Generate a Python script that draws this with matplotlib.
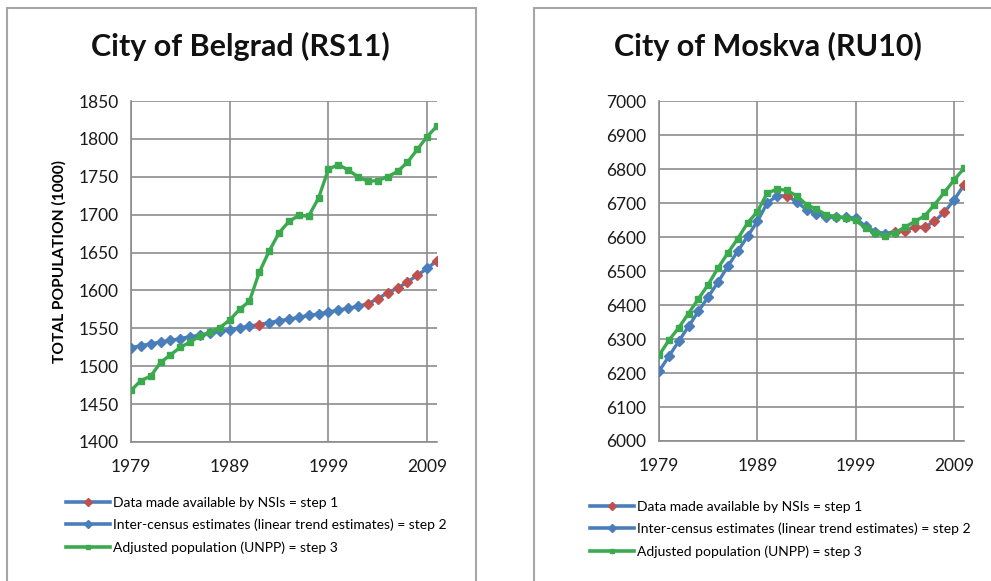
import matplotlib
matplotlib.use('Agg')
import matplotlib.pyplot as plt
from matplotlib.lines import Line2D
from matplotlib.patches import Rectangle
import numpy as np

plt.rcParams['font.family'] = ['Lato', 'DejaVu Sans']

YEARS = list(range(1979, 2011))
X_TICKS = [1979, 1989, 1999, 2009]

# City of Belgrad (RS11), 1000 persons
BELGRAD_STEP2 = [1524.5, 1527, 1529.5, 1532, 1534, 1536.5, 1539, 1541, 1543.5, 1546,
                 1548, 1550.5, 1553, 1555, 1557.5, 1560, 1562, 1564.5, 1567, 1569,
                 1571.5, 1574, 1576.5, 1579, 1582.5, 1589, 1597, 1603, 1611, 1620,
                 1629, 1639.5]
BELGRAD_STEP3 = [1468, 1481, 1487, 1505, 1515, 1525, 1532, 1540, 1545, 1551,
                 1561, 1575, 1586, 1624, 1652, 1676, 1691, 1699, 1698, 1722,
                 1760, 1766, 1759, 1750, 1744, 1745, 1750, 1757, 1769, 1786,
                 1803, 1817]

# City of Moskva (RU10), 1000 persons
MOSKVA_STEP2 = [6205, 6249, 6293, 6337, 6381, 6424, 6467, 6514, 6558, 6602,
                6646, 6700, 6721, 6721, 6704, 6680, 6668, 6660, 6658, 6658,
                6655, 6631, 6616, 6610, 6616, 6619, 6629, 6629, 6646, 6673,
                6709, 6753]
MOSKVA_STEP3 = [6252, 6296, 6333, 6375, 6418, 6460, 6509, 6553, 6595, 6641,
                6675, 6729, 6741, 6737, 6721, 6695, 6682, 6665, 6660, 6656,
                6649, 6626, 6612, 6604, 6613, 6629, 6646, 6662, 6695, 6731,
                6768, 6802]

# years where NSI data is available (step 1)
NSI_YEARS = [1992, 2003, 2004, 2005, 2006, 2007, 2008, 2010]

LEGEND_LABELS = ['Data made available by NSIs = step 1',
                 'Inter-census estimates (linear trend estimates) = step 2',
                 'Adjusted population (UNPP) = step 3']

BLUE = '#4A7EBB'
RED = '#C0504D'
GREEN = '#3BAA4E'
GRID = '#8C8C8C'
BORDER = '#A6A6A6'

W, H = 991, 581


def px_box(x0, y0, x1, y1):
    return [x0 / W, 1 - y1 / H, (x1 - x0) / W, (y1 - y0) / H]


def draw_panel(ax, step2, step3, ylim, ystep, ylabel=None):
    years = np.array(YEARS)
    s2 = np.array(step2, dtype=float)
    nsi = np.isin(years, NSI_YEARS)

    ax.plot(years, s2, color=BLUE, lw=2.4, zorder=3)
    ax.plot(years[~nsi], s2[~nsi], ls='none', marker='D', ms=5.5,
            color=BLUE, zorder=4)
    ax.plot(years[nsi], s2[nsi], ls='none', marker='D', ms=5.5,
            color=RED, zorder=4)
    ax.plot(years, step3, color=GREEN, lw=2.4, marker='s', ms=4.5, zorder=5)

    ax.set_xlim(1979, 2010)
    ax.set_ylim(*ylim)
    ax.set_xticks(X_TICKS)
    ax.set_yticks(np.arange(ylim[0], ylim[1] + 1, ystep))
    ax.grid(True, color=GRID, lw=1.2)
    ax.set_axisbelow(True)
    for side in ('top', 'right'):
        ax.spines[side].set_visible(False)
    for side in ('left', 'bottom'):
        ax.spines[side].set_color(GRID)
        ax.spines[side].set_linewidth(1.2)
    ax.tick_params(length=0, labelsize=12.5, pad=9, colors='#1a1a1a')
    ax.tick_params(axis='x', pad=12)
    if ylabel:
        ax.set_ylabel(ylabel, fontsize=11.2, fontweight='bold')
        ax.yaxis.set_label_coords(-0.209, 0.53)


def legend_handles():
    return [
        Line2D([], [], color=BLUE, lw=2.6, marker='D', ms=4,
               markerfacecolor=RED, markeredgecolor=RED),
        Line2D([], [], color=BLUE, lw=2.6, marker='D', ms=4),
        Line2D([], [], color=GREEN, lw=2.6, marker='s', ms=3),
    ]


fig = plt.figure(figsize=(W / 100, H / 100), dpi=100)

# panel frames
fig.patches.append(Rectangle((7 / W, -0.05), (476 - 7) / W, 1.05 - 8 / H,
                             transform=fig.transFigure, fill=False,
                             ec=BORDER, lw=1.5))
fig.patches.append(Rectangle((534 / W, -0.05), 0.5, 1.05 - 8 / H,
                             transform=fig.transFigure, fill=False,
                             ec=BORDER, lw=1.5))

ax1 = fig.add_axes(px_box(131, 101, 437, 442))
draw_panel(ax1, BELGRAD_STEP2, BELGRAD_STEP3, (1400, 1850), 50,
           ylabel='TOTAL POPULATION (1000)')

ax2 = fig.add_axes(px_box(659, 101, 964, 441))
draw_panel(ax2, MOSKVA_STEP2, MOSKVA_STEP3, (6000, 7000), 100)

for x, y, title in ((240, 46, 'City of Belgrad (RS11)'),
                    (768, 46, 'City of Moskva (RU10)')):
    fig.text(x / W, 1 - y / H, title, ha='center', va='center',
             fontsize=22, fontweight='bold', color='#111111')

for ax, (lx, ly) in ((ax1, (66, 497)), (ax2, (590, 501))):
    ax.legend(legend_handles(), LEGEND_LABELS, loc='upper left',
              bbox_to_anchor=(lx / W, 1 - ly / H), bbox_transform=fig.transFigure,
              frameon=False, fontsize=10, handlelength=3.2, handletextpad=0.2,
              labelspacing=0.7, borderaxespad=0, borderpad=0)

fig.savefig('out.png', dpi=100)
